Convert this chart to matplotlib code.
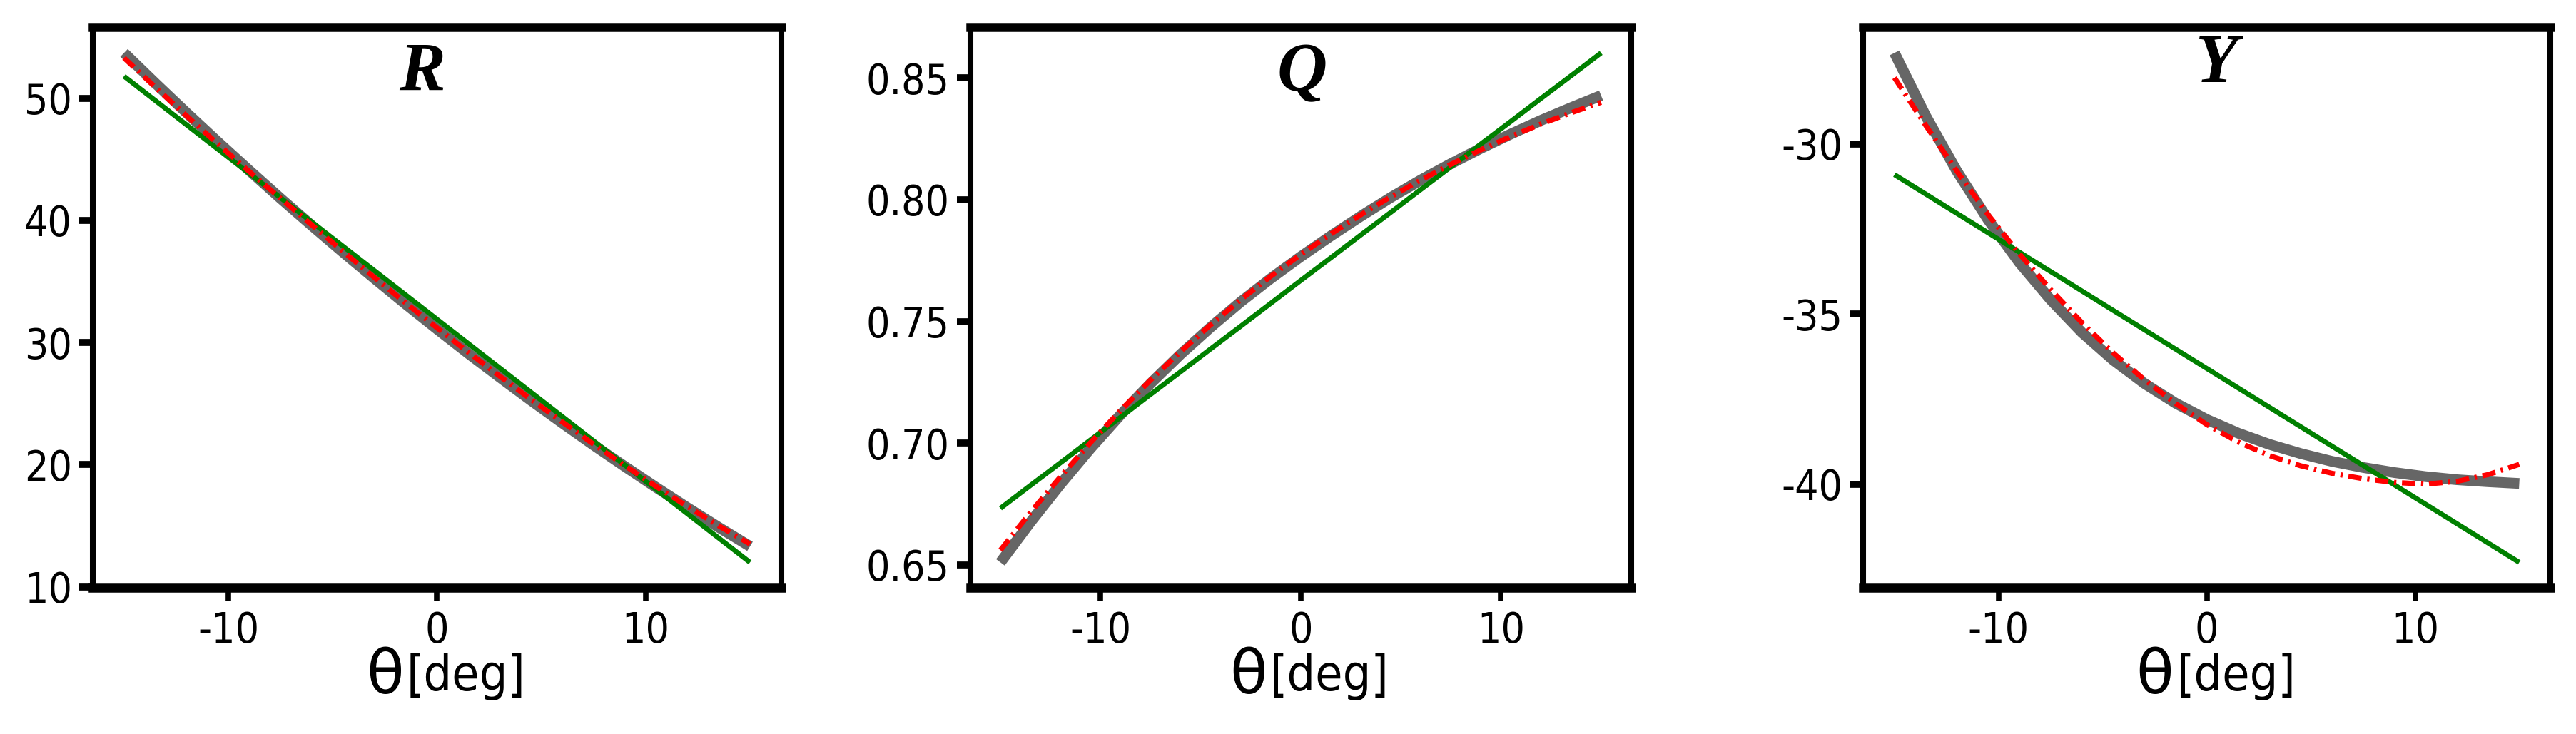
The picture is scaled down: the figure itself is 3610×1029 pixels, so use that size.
import matplotlib
matplotlib.use("Agg")
import matplotlib.pyplot as plt
from matplotlib.offsetbox import TextArea, HPacker, AnchoredOffsetbox

# ==================== data ====================

theta = [-15, -13.5, -12, -10.5, -9, -7.5, -6, -4.5, -3, -1.5, 0,
         1.5, 3, 4.5, 6, 7.5, 9, 10.5, 12, 13.5, 15]

# R panel
r_gray = [53.71, 51.23, 48.80, 46.42, 44.09, 41.80, 39.57, 37.38, 35.24, 33.14, 31.10,
          29.10, 27.16, 25.26, 23.41, 21.60, 19.85, 18.14, 16.48, 14.87, 13.31]
r_red = [53.30, 50.90, 48.55, 46.25, 44.00, 41.80, 39.62, 37.45, 35.32, 33.23, 31.20,
         29.20, 27.25, 25.35, 23.50, 21.68, 19.92, 18.22, 16.58, 14.99, 13.50]
r_green = [51.80, 49.81, 47.82, 45.83, 43.84, 41.85, 39.86, 37.87, 35.88, 33.89, 31.90,
           29.91, 27.92, 25.93, 23.94, 21.95, 19.96, 17.97, 15.98, 13.99, 12.00]

# Q panel
q_gray = [0.6510, 0.6675, 0.6831, 0.6978, 0.7116, 0.7245, 0.7365, 0.7476, 0.7580, 0.7676, 0.7766,
          0.7851, 0.7932, 0.8009, 0.8081, 0.8148, 0.8211, 0.8270, 0.8326, 0.8378, 0.8428]
q_red = [0.6560, 0.6715, 0.6862, 0.7002, 0.7134, 0.7259, 0.7376, 0.7486, 0.7589, 0.7685, 0.7775,
         0.7859, 0.7938, 0.8012, 0.8081, 0.8145, 0.8205, 0.8260, 0.8311, 0.8357, 0.8400]
q_green = [0.6732, 0.6826, 0.6919, 0.7013, 0.7106, 0.7200, 0.7293, 0.7387, 0.7480, 0.7574, 0.7668,
           0.7761, 0.7855, 0.7948, 0.8042, 0.8135, 0.8229, 0.8322, 0.8416, 0.8509, 0.8603]

# Y panel
y_gray = [-27.32, -29.17, -30.80, -32.23, -33.49, -34.58, -35.54, -36.35, -37.04, -37.62, -38.10,
          -38.50, -38.83, -39.10, -39.33, -39.51, -39.66, -39.78, -39.87, -39.93, -39.98]
y_red = [-28.05, -29.45, -30.80, -32.08, -33.23, -34.28, -35.25, -36.14, -36.93, -37.63, -38.25,
         -38.76, -39.16, -39.46, -39.68, -39.84, -39.95, -40.00, -39.92, -39.72, -39.42]
y_green = [-30.90, -31.47, -32.04, -32.61, -33.18, -33.75, -34.32, -34.89, -35.46, -36.03, -36.60,
           -37.17, -37.74, -38.31, -38.88, -39.45, -40.02, -40.59, -41.16, -41.73, -42.30]

titles = ["R", "Q", "Y"]
x_ticks = [-10, 0, 10]
r_ticks = [10, 20, 30, 40, 50]
q_ticks = [0.65, 0.70, 0.75, 0.80, 0.85]
y_ticks = [-40, -35, -30]

# ==================== style / layout ====================

plt.rcParams["font.family"] = ["DejaVu Sans"]
plt.rcParams["axes.unicode_minus"] = False  # short hyphen like the original

TICK_FONT = dict(family="DejaVu Sans", stretch="condensed", size=42)

panels = [
    # axes rect, title position (axes coords), curves, y ticks, tick format
    dict(rect=[0.0360, 0.1992, 0.2673, 0.7634], tpos=(0.478, 0.887),
         gray=r_gray, red=r_red, green=r_green, yt=r_ticks, fmt="{:.0f}"),
    dict(rect=[0.3767, 0.1992, 0.2565, 0.7634], tpos=(0.502, 0.887),
         gray=q_gray, red=q_red, green=q_green, yt=q_ticks, fmt="{:.2f}"),
    dict(rect=[0.7233, 0.1992, 0.2668, 0.7634], tpos=(0.514, 0.903),
         gray=y_gray, red=y_red, green=y_green, yt=y_ticks, fmt="{:.0f}"),
]

fig = plt.figure(figsize=(36.1, 10.29), dpi=100)

for title, p in zip(titles, panels):
    ax = fig.add_axes(p["rect"])

    # gray = reference curve, green = linear fit, red = dash-dot approximation
    ax.plot(theta, p["gray"], color="#666666", lw=10.8,
            solid_capstyle="butt", solid_joinstyle="round", zorder=2)
    ax.plot(theta, p["green"], color="#008000", lw=5.0, solid_capstyle="butt", zorder=3)
    ax.plot(theta, p["red"], color="#ff0000", lw=5.2,
            linestyle=(0, (2.6, 1.1, 0.45, 1.1)), dash_capstyle="butt", zorder=4)

    ax.set_xlim(-16.5, 16.5)

    for side in ("top", "bottom"):
        ax.spines[side].set_linewidth(9)
    for side in ("left", "right"):
        ax.spines[side].set_linewidth(5.8)

    ax.set_xticks(x_ticks)
    ax.set_xticklabels([str(v) for v in x_ticks], fontdict=TICK_FONT)
    ax.set_yticks(p["yt"])
    ax.set_yticklabels([p["fmt"].format(v) for v in p["yt"]], fontdict=TICK_FONT)
    ax.tick_params(axis="x", direction="out", length=14, width=5.5, pad=9)
    ax.tick_params(axis="y", direction="out", length=14, width=7, pad=7)

    ax.text(p["tpos"][0], p["tpos"][1], title, transform=ax.transAxes,
            ha="center", va="baseline", family="Liberation Serif",
            weight="bold", style="italic", size=70)

    # x label: big theta followed by [deg]
    label = HPacker(
        children=[
            TextArea("θ", textprops=dict(size=62, family="DejaVu Sans")),
            TextArea("[deg]", textprops=dict(size=50, family="DejaVu Sans",
                                             stretch="condensed")),
        ],
        align="center", pad=0, sep=3,
    )
    anchored = AnchoredOffsetbox(
        loc="upper center", child=label, pad=0, borderpad=0, frameon=False,
        bbox_to_anchor=(0.513, -0.105), bbox_transform=ax.transAxes,
    )
    ax.add_artist(anchored)

fig.savefig("out.png", dpi=100)
